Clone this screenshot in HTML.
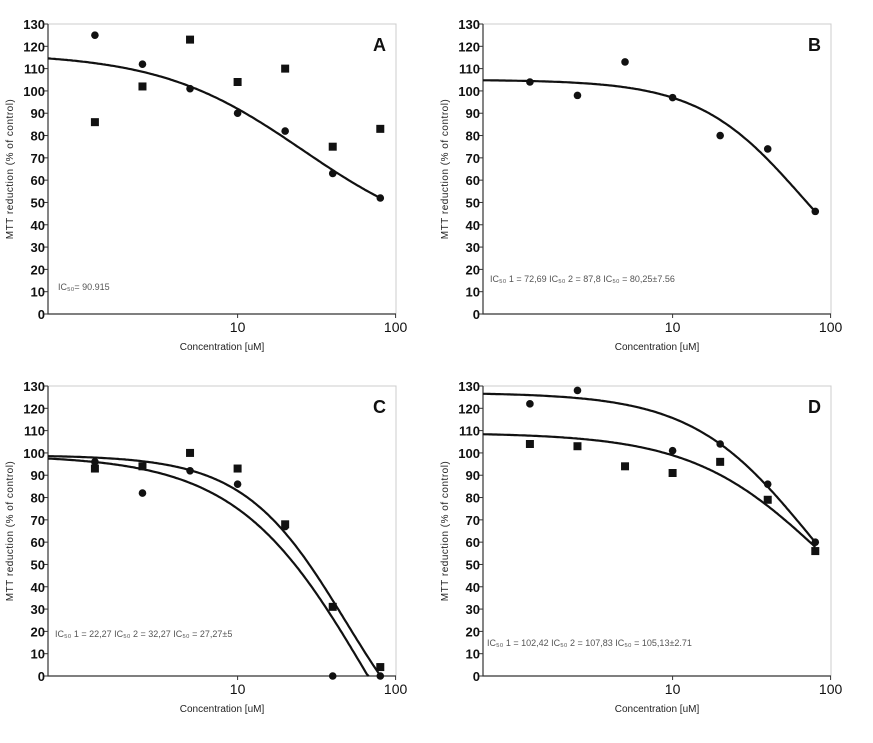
<!DOCTYPE html>
<html><head><meta charset="utf-8">
<style>
body{margin:0;background:#fff;}
svg{display:block;font-family:"Liberation Sans",Arial,sans-serif;}
.tick{font-size:13px;font-weight:bold;fill:#111;}
.ax{font-size:10px;fill:#222;}
.ic{font-size:9px;fill:#555;}
.lt{font-size:18px;font-weight:bold;fill:#111;}
</style></head>
<body>
<svg id="chart" width="873" height="743" viewBox="0 0 873 743" xmlns="http://www.w3.org/2000/svg"></svg>
<script>
// Shared data
const concentrations = [1.25, 2.5, 5, 10, 20, 40, 80];
const yTicks = [0,10,20,30,40,50,60,70,80,90,100,110,120,130];
const xTickValues = [10, 100];
const xTickLabels = ["10", "100"];
// Panel A
const aCircles = [125, 112, 101, 90, 82, 63, 52];
const aSquares = [86, 102, 123, 104, 110, 75, 83];
const aFit = [117, 30, 25.8, 0.957]; // top, bottom, ec50, hill
// Panel B
const bCircles = [104, 98, 113, 97, 80, 74, 46];
const bSquares = [];
const bFit = [105, 0, 66, 1.32];
// Panel C
const cCircles = [96, 82, 92, 86, 67, 0, 0];
const cSquares = [93, 94, 100, 93, 68, 31, 4];
const cFit1 = [99, -50, 48.3, 1.345];
const cFit2 = [99, -100, 67.5, 1.04];
// Panel D
const dCircles = [122, 128, null, 101, 104, 86, 60];
const dSquares = [104, 103, 94, 91, 96, 79, 56];
const dFit1 = [127, 0, 72.7, 1.17];
const dFit2 = [109, 0, 90, 1.04];

const NS = "http://www.w3.org/2000/svg";
const svg = document.getElementById("chart");
function mk(tag, attrs, parent){
  const e = document.createElementNS(NS, tag);
  for (const k in attrs) e.setAttribute(k, attrs[k]);
  (parent||svg).appendChild(e);
  return e;
}

const panels = [
  {id:"a", letter:"A", x0:48, y0:24, circles:aCircles, squares:aSquares, fits:[aFit],
   ic:["IC₅₀=  90.915"], icx:58, icy:290},
  {id:"b", letter:"B", x0:483, y0:24, circles:bCircles, squares:bSquares, fits:[bFit],
   ic:["IC₅₀ 1 = 72,69   IC₅₀ 2 = 87,8   IC₅₀ = 80,25±7.56"], icx:490, icy:282},
  {id:"c", letter:"C", x0:48, y0:386, circles:cCircles, squares:cSquares, fits:[cFit1, cFit2],
   ic:["IC₅₀ 1 =  22,27 IC₅₀ 2 =  32,27 IC₅₀ =  27,27±5"], icx:55, icy:637},
  {id:"d", letter:"D", x0:483, y0:386, circles:dCircles, squares:dSquares, fits:[dFit1, dFit2],
   ic:["IC₅₀ 1 =  102,42    IC₅₀ 2 =  107,83      IC₅₀ =  105,13±2.71"], icx:487, icy:646}
];
const W = 348, H = 290, DEC = 158, LOGMIN = -0.2;

panels.forEach(p => {
  const g = mk("g", {});
  
  
  const xs = v => p.x0 + (Math.log10(v) - LOGMIN) * DEC;
  const ys = v => p.y0 + H - v / 130 * H;
  const yb = p.y0 + H;
  // frame
  mk("path", {d:`M${p.x0} ${p.y0}H${p.x0+W}V${yb}`, fill:"none", stroke:"#ccc", "stroke-width":1}, g);
  const ax = mk("path", {d:`M${p.x0} ${p.y0}V${yb}H${p.x0+W}`, fill:"none", stroke:"#333", "stroke-width":1.2}, g);
  
  
  yTicks.forEach(t => {
    const y = ys(t);
    mk("line", {x1:p.x0-4, x2:p.x0, y1:y, y2:y, stroke:"#333"}, g);
    const tx = mk("text", {x:p.x0-3, y:y+5, "text-anchor":"end", class:"tick"}, g);
    tx.textContent = t;
    
    
  });
  xTickValues.forEach((v, i) => {
    const x = xs(v);
    mk("line", {x1:x, x2:x, y1:yb, y2:yb+4, stroke:"#333"}, g);
    const tx = mk("text", {x:x, y:yb+18, "text-anchor":"middle", class:"tick", style:"font-weight:normal;font-size:14px"}, g);
    tx.textContent = xTickLabels[i];
    
    
  });
  const xl = mk("text", {x:p.x0+W/2, y:yb+36, "text-anchor":"middle", class:"ax"}, g);
  xl.textContent = "Concentration [uM]";
  
  
  const yx = p.x0 - 35, yy = p.y0 + H/2;
  const yl = mk("text", {x:yx, y:yy, "text-anchor":"middle", class:"ax", transform:`rotate(-90 ${yx} ${yy})`, style:"letter-spacing:0.5px"}, g);
  yl.textContent = "MTT reduction (% of control)";
  
  
  const lt = mk("text", {x:p.x0+W-10, y:p.y0+27, "text-anchor":"end", class:"lt"}, g);
  lt.textContent = p.letter;
  
  
  const ic = mk("text", {x:p.icx, y:p.icy, class:"ic"}, g);
  ic.textContent = p.ic[0];
  
  
  // fit curves
  p.fits.forEach(f => {
    let d = "";
    for (let i = 0; i <= 200; i++) {
      const lg = LOGMIN + i / 200 * (Math.log10(80) - LOGMIN);
      const c = Math.pow(10, lg);
      let v = f[1] + (f[0] - f[1]) / (1 + Math.pow(c / f[2], f[3]));
      if (v < 0) { // clip at zero
        v = 0; d += (d ? "L" : "M") + xs(c).toFixed(1) + " " + ys(v).toFixed(1); break;
      }
      d += (d ? "L" : "M") + xs(c).toFixed(1) + " " + ys(v).toFixed(1);
    }
    const pa = mk("path", {d:d, fill:"none", stroke:"#111", "stroke-width":2.2}, g);
    
    
  });
  p.circles.forEach((v, i) => {
    if (v === null) return;
    const c = mk("circle", {cx:xs(concentrations[i]), cy:ys(v), r:3.8, fill:"#111"}, g);
    
    
  });
  p.squares.forEach((v, i) => {
    if (v === null) return;
    const r = mk("rect", {x:xs(concentrations[i])-4, y:ys(v)-4, width:8, height:8, fill:"#111"}, g);
    
    
  });
});
</script>
</body></html>
